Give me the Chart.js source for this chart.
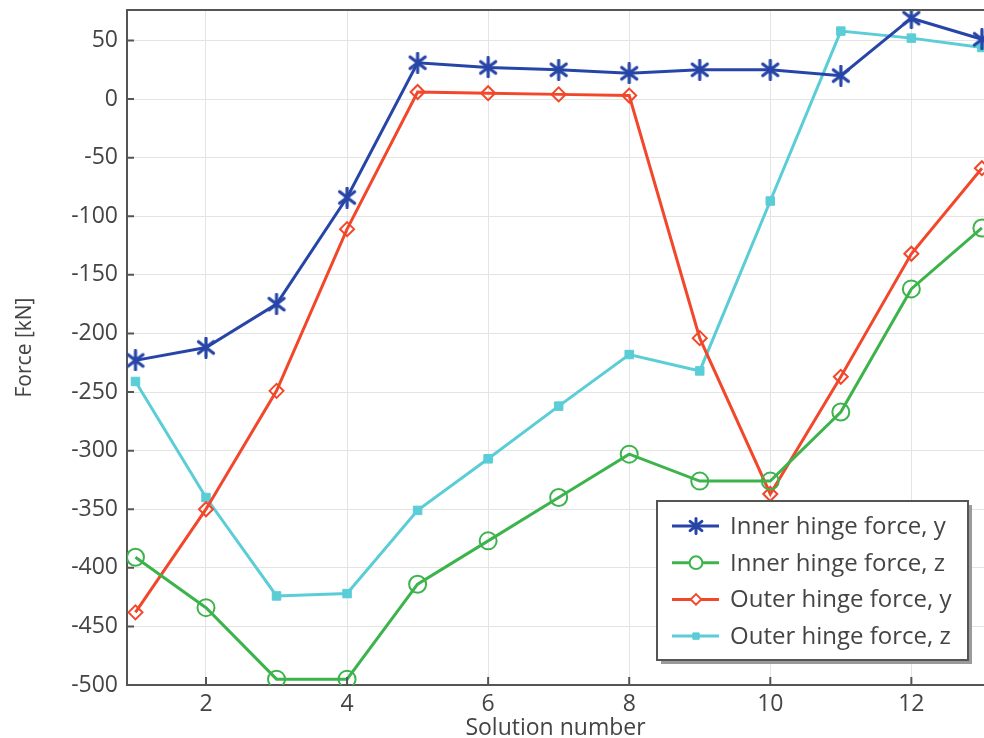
<!DOCTYPE html>
<html>
<head>
<meta charset="utf-8">
<script src="https://cdn.jsdelivr.net/npm/chart.js@4.4.1/dist/chart.umd.min.js"></script>
<style>
  html, body { margin: 0; padding: 0; background: #fff; }
  #wrap { width: 984px; height: 738px; }
</style>
</head>
<body>
<div id="wrap"><canvas id="forceChart" width="984" height="738"></canvas></div>
<script>
// Data
const solutions = [1, 2, 3, 4, 5, 6, 7, 8, 9, 10, 11, 12, 13];
const innerY = [-223, -212, -175, -84, 31, 27, 25, 22, 25, 25, 20, 69, 51];
const innerZ = [-391, -434, -495, -495, -414, -377, -340, -303, -326, -326, -267, -162, -110];
const outerY = [-438, -350, -249, -111, 6, 5, 4, 3, -204, -337, -237, -132, -59];
const outerZ = [-241, -340, -424, -422, -351, -307, -262, -218, -232, -87, 58, 52, 44];
const seriesLabels = ['Inner hinge force, y', 'Inner hinge force, z', 'Outer hinge force, y', 'Outer hinge force, z'];
const xTicks = [2, 4, 6, 8, 10, 12];
const yTicks = [-500, -450, -400, -350, -300, -250, -200, -150, -100, -50, 0, 50];

const COLORS = {
  blue: '#2645a6',
  green: '#3cb44b',
  red: '#f2472b',
  cyan: '#5acdd6',
  axis: '#555555',
  grid: '#e4e4e4',
  text: '#444444'
};
const FONT = '"Open Sans", "Noto Sans", sans-serif';

function toPoints(values) {
  return values.map((v, i) => ({ x: solutions[i], y: v }));
}

/**
 * Six-spoke asterisk marker (Chart.js 'star' has eight)
 */
function makeAsterisk(size, color, lw) {
  const c = document.createElement('canvas');
  c.width = size;
  c.height = size;
  const g = c.getContext('2d');
  const m = size / 2, r = size / 2 - 1.5;
  g.strokeStyle = color;
  g.lineWidth = lw;
  g.lineCap = 'round';
  g.beginPath();
  [90, 38, 142].forEach(deg => {
    const a = deg * Math.PI / 180;
    g.moveTo(m - r * Math.cos(a), m - r * Math.sin(a));
    g.lineTo(m + r * Math.cos(a), m + r * Math.sin(a));
  });
  g.stroke();
  return c;
}
const asterisk = makeAsterisk(22, COLORS.blue, 3.2);
const asteriskSmall = makeAsterisk(18, COLORS.blue, 3);

// No overhang padding for the end tick labels
function noLabelPadding(scale) {
  scale.paddingTop = 0;
  scale.paddingBottom = 0;
  scale.paddingLeft = 0;
  scale.paddingRight = 0;
}

// Frame on top plus inward tick marks (like the original plot)
const framePlugin = {
  id: 'frame',
  afterDraw(chart) {
    const { ctx, chartArea: a, scales } = chart;
    ctx.save();
    ctx.strokeStyle = COLORS.axis;
    ctx.lineWidth = 2;
    ctx.beginPath();
    ctx.moveTo(a.left, a.top);
    ctx.lineTo(a.right + 2, a.top);
    ctx.stroke();
    ctx.beginPath();
    yTicks.forEach(v => {
      const y = scales.y.getPixelForValue(v);
      ctx.moveTo(a.left, y);
      ctx.lineTo(a.left + 7, y);
    });
    xTicks.forEach(v => {
      const x = scales.x.getPixelForValue(v);
      ctx.moveTo(x, a.bottom);
      ctx.lineTo(x, a.bottom - 8);
    });
    ctx.stroke();
    ctx.restore();
  }
};

// Boxed legend in the lower right corner of the plot
const boxLegendPlugin = {
  id: 'boxLegend',
  afterDraw(chart) {
    const { ctx, chartArea: a } = chart;
    const w = 311, h = 159;
    const left = a.right - 16 - w, top = a.bottom - 25 - h;
    ctx.save();
    ctx.fillStyle = '#9a9a9a';
    ctx.fillRect(left + 4, top + 4, w, h);
    ctx.fillStyle = '#ffffff';
    ctx.fillRect(left, top, w, h);
    ctx.strokeStyle = '#555555';
    ctx.lineWidth = 2;
    ctx.strokeRect(left, top, w, h);

    ctx.font = '24px ' + FONT;
    ctx.textBaseline = 'middle';
    ctx.textAlign = 'left';
    chart.data.datasets.forEach((ds, i) => {
      const y = top + 25 + i * 36.7;
      ctx.strokeStyle = ds.borderColor;
      ctx.lineWidth = 3;
      ctx.beginPath();
      ctx.moveTo(left + 15, y);
      ctx.lineTo(left + 62, y);
      ctx.stroke();
      ctx.fillStyle = ds.legendFill;
      ctx.lineWidth = ds.pointBorderWidth;
      Chart.helpers.drawPoint(ctx, {
        pointStyle: ds.legendStyle,
        radius: ds.pointRadius * 0.75,
        borderWidth: ds.pointBorderWidth
      }, left + 39, y);
      ctx.fillStyle = COLORS.text;
      ctx.fillText(ds.label, left + 73, y + 1);
    });
    ctx.restore();
  }
};

const ctx = document.getElementById('forceChart').getContext('2d');
const forceChart = new Chart(ctx, {
  type: 'line',
  data: {
    datasets: [
      {
        label: seriesLabels[0],
        data: toPoints(innerY),
        borderColor: COLORS.blue,
        backgroundColor: COLORS.blue,
        pointStyle: asterisk,
        legendStyle: asteriskSmall,
        legendFill: COLORS.blue,
        pointRadius: 10,
        pointBorderWidth: 3,
        pointBackgroundColor: COLORS.blue
      },
      {
        label: seriesLabels[1],
        data: toPoints(innerZ),
        borderColor: COLORS.green,
        backgroundColor: 'transparent',
        pointStyle: 'circle',
        legendStyle: 'circle',
        legendFill: '#ffffff',
        pointRadius: 8.5,
        pointBorderWidth: 2,
        pointBackgroundColor: 'transparent'
      },
      {
        label: seriesLabels[2],
        data: toPoints(outerY),
        borderColor: COLORS.red,
        backgroundColor: 'transparent',
        pointStyle: 'rectRot',
        legendStyle: 'rectRot',
        legendFill: '#ffffff',
        pointRadius: 7,
        pointBorderWidth: 2,
        pointBackgroundColor: 'transparent'
      },
      {
        label: seriesLabels[3],
        data: toPoints(outerZ),
        borderColor: COLORS.cyan,
        backgroundColor: COLORS.cyan,
        pointStyle: 'rect',
        legendStyle: 'rect',
        legendFill: COLORS.cyan,
        pointRadius: 6,
        pointBorderWidth: 1,
        pointBackgroundColor: COLORS.cyan
      }
    ]
  },
  options: {
    responsive: false,
    animation: false,
    devicePixelRatio: 1,
    layout: { autoPadding: false, padding: { top: 10, right: 0, left: 0, bottom: 0 } },
    elements: {
      line: { borderWidth: 3, tension: 0 },
      point: { hoverRadius: 8 }
    },
    plugins: {
      legend: { display: false },
      tooltip: { enabled: false }
    },
    scales: {
      x: {
        type: 'linear',
        min: 0.88,
        max: 13.03,
        afterBuildTicks: scale => { scale.ticks = xTicks.map(v => ({ value: v })); },
        afterFit: scale => { scale.height = 53; noLabelPadding(scale); },
        grid: { color: COLORS.grid, lineWidth: 1, drawTicks: false },
        border: { color: COLORS.axis, width: 2 },
        ticks: { color: COLORS.text, font: { family: FONT, size: 23 }, padding: 6, maxRotation: 0 },
        title: {
          display: true,
          text: 'Solution number',
          color: COLORS.text,
          font: { family: FONT, size: 23, lineHeight: 1 },
          padding: { top: 0, bottom: -2 }
        }
      },
      y: {
        min: -500,
        max: 76,
        afterBuildTicks: scale => { scale.ticks = yTicks.map(v => ({ value: v })); },
        afterFit: scale => { scale.width = 127; noLabelPadding(scale); },
        grid: { color: COLORS.grid, lineWidth: 1, drawTicks: false },
        border: { color: COLORS.axis, width: 2 },
        ticks: { color: COLORS.text, font: { family: FONT, size: 23 }, padding: 9 },
        title: {
          display: true,
          text: 'Force [kN]',
          color: COLORS.text,
          font: { family: FONT, size: 21 },
          padding: { top: 12, bottom: 0 }
        }
      }
    }
  },
  plugins: [framePlugin, boxLegendPlugin]
});
</script>
</body>
</html>
